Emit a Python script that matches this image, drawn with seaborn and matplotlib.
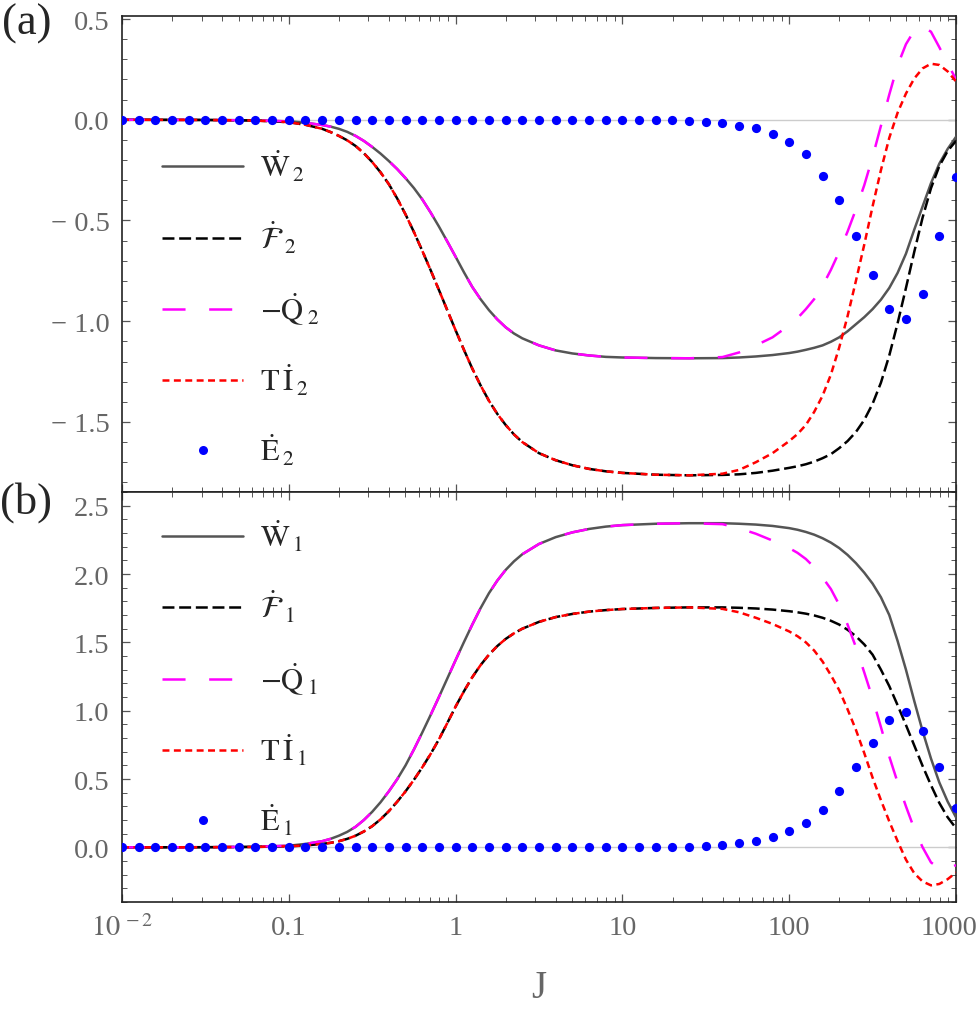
import numpy as np
import seaborn as sns
import matplotlib
matplotlib.use("Agg")
import matplotlib.pyplot as plt
from matplotlib.lines import Line2D
from matplotlib.transforms import ScaledTranslation
from matplotlib.ticker import MultipleLocator, LogLocator, FixedLocator, FuncFormatter, NullFormatter

# sampling grid of the curves, log10(J)
logJ = [-2.0, -1.5, -1.2, -1.0, -0.9,
        -0.8, -0.75, -0.7, -0.65, -0.6,
        -0.55, -0.5, -0.45, -0.4, -0.35,
        -0.3, -0.25, -0.2, -0.15, -0.1,
        -0.05, 0.0, 0.05, 0.1, 0.15,
        0.2, 0.25, 0.3, 0.35, 0.4,
        0.5, 0.6, 0.7, 0.8, 0.9,
        1.0, 1.2, 1.4, 1.6, 1.7,
        1.8, 1.9, 2.0, 2.05, 2.1,
        2.15, 2.2, 2.25, 2.3, 2.35,
        2.4, 2.45, 2.5, 2.55, 2.6,
        2.65, 2.7, 2.75, 2.8, 2.85,
        2.9, 2.95, 3.0]

# panel (a)
W2 = [0.0, -0.001, -0.003, -0.008, -0.015,
      -0.026, -0.034, -0.045, -0.060, -0.08,
      -0.105, -0.135, -0.168, -0.205, -0.245,
      -0.29, -0.339, -0.395, -0.46, -0.53,
      -0.604, -0.68, -0.757, -0.83, -0.891,
      -0.945, -0.991, -1.03, -1.061, -1.085,
      -1.12, -1.145, -1.16, -1.17, -1.177,
      -1.18, -1.183, -1.184, -1.183, -1.18,
      -1.175, -1.168, -1.158, -1.151, -1.142,
      -1.132, -1.12, -1.102, -1.08, -1.05,
      -1.015, -0.98, -0.94, -0.893, -0.835,
      -0.76, -0.665, -0.545, -0.43, -0.315,
      -0.218, -0.145, -0.085]
F2 = [0.0, -0.001, -0.004, -0.012, -0.025,
      -0.045, -0.061, -0.08, -0.102, -0.13,
      -0.166, -0.21, -0.261, -0.32, -0.391,
      -0.47, -0.557, -0.65, -0.746, -0.845,
      -0.945, -1.045, -1.142, -1.235, -1.319,
      -1.395, -1.46, -1.515, -1.562, -1.60,
      -1.655, -1.69, -1.715, -1.733, -1.745,
      -1.753, -1.762, -1.765, -1.763, -1.76,
      -1.753, -1.742, -1.728, -1.72, -1.71,
      -1.697, -1.68, -1.66, -1.63, -1.595,
      -1.55, -1.49, -1.41, -1.305, -1.17,
      -1.01, -0.835, -0.655, -0.485, -0.34,
      -0.23, -0.155, -0.105]
Q2 = [0.0, -0.001, -0.003, -0.008, -0.015,
      -0.026, -0.034, -0.045, -0.060, -0.08,
      -0.105, -0.135, -0.168, -0.205, -0.245,
      -0.29, -0.339, -0.395, -0.46, -0.53,
      -0.604, -0.68, -0.757, -0.83, -0.891,
      -0.945, -0.991, -1.03, -1.061, -1.085,
      -1.12, -1.145, -1.16, -1.17, -1.177,
      -1.18, -1.183, -1.184, -1.178, -1.155,
      -1.12, -1.08, -1.02, -0.985, -0.94,
      -0.89, -0.825, -0.745, -0.655, -0.555,
      -0.445, -0.325, -0.185, -0.03, 0.125,
      0.27, 0.375, 0.443, 0.462, 0.437,
      0.36, 0.28, 0.2]
TI2 = [0.0, -0.001, -0.004, -0.012, -0.025,
       -0.045, -0.061, -0.08, -0.102, -0.13,
       -0.166, -0.21, -0.261, -0.32, -0.391,
       -0.47, -0.557, -0.65, -0.746, -0.845,
       -0.945, -1.045, -1.142, -1.235, -1.319,
       -1.395, -1.46, -1.515, -1.562, -1.60,
       -1.655, -1.69, -1.715, -1.733, -1.745,
       -1.753, -1.762, -1.765, -1.757, -1.738,
       -1.70, -1.655, -1.595, -1.56, -1.515,
       -1.45, -1.37, -1.265, -1.13, -0.975,
       -0.80, -0.62, -0.43, -0.25, -0.09,
       0.035, 0.13, 0.205, 0.255, 0.278,
       0.272, 0.24, 0.19]

# panel (b)
W1 = [0.0, 0.001, 0.004, 0.012, 0.025,
      0.045, 0.062, 0.085, 0.113, 0.15,
      0.20, 0.26, 0.33, 0.41, 0.499,
      0.60, 0.716, 0.84, 0.968, 1.10,
      1.235, 1.37, 1.502, 1.63, 1.751,
      1.86, 1.952, 2.03, 2.093, 2.145,
      2.22, 2.27, 2.305, 2.33, 2.347,
      2.358, 2.368, 2.372, 2.372, 2.368,
      2.362, 2.352, 2.336, 2.324, 2.308,
      2.288, 2.262, 2.23, 2.19, 2.14,
      2.08, 2.01, 1.93, 1.83, 1.70,
      1.51, 1.30, 1.07, 0.85, 0.65,
      0.475, 0.335, 0.22]
F1 = [0.0, 0.001, 0.003, 0.008, 0.014,
      0.025, 0.033, 0.045, 0.062, 0.085,
      0.116, 0.155, 0.205, 0.265, 0.334,
      0.41, 0.494, 0.585, 0.683, 0.79,
      0.909, 1.03, 1.142, 1.245, 1.334,
      1.41, 1.473, 1.525, 1.566, 1.60,
      1.65, 1.685, 1.708, 1.725, 1.736,
      1.744, 1.752, 1.756, 1.756, 1.753,
      1.748, 1.74, 1.728, 1.72, 1.71,
      1.697, 1.68, 1.658, 1.63, 1.592,
      1.545, 1.485, 1.41, 1.30, 1.18,
      1.04, 0.895, 0.745, 0.595, 0.455,
      0.325, 0.22, 0.14]
Q1 = [0.0, 0.001, 0.004, 0.012, 0.025,
      0.045, 0.062, 0.085, 0.113, 0.15,
      0.20, 0.26, 0.33, 0.41, 0.499,
      0.60, 0.716, 0.84, 0.968, 1.10,
      1.235, 1.37, 1.502, 1.63, 1.751,
      1.86, 1.952, 2.03, 2.093, 2.145,
      2.22, 2.27, 2.305, 2.33, 2.347,
      2.358, 2.368, 2.372, 2.365, 2.335,
      2.295, 2.245, 2.19, 2.155, 2.11,
      2.05, 1.975, 1.89, 1.775, 1.63,
      1.465, 1.28, 1.09, 0.88, 0.665,
      0.475, 0.30, 0.135, 0.0, -0.11,
      -0.155, -0.16, -0.13]
TI1 = [0.0, 0.001, 0.003, 0.008, 0.014,
       0.025, 0.033, 0.045, 0.062, 0.085,
       0.116, 0.155, 0.205, 0.265, 0.334,
       0.41, 0.494, 0.585, 0.683, 0.79,
       0.909, 1.03, 1.142, 1.245, 1.334,
       1.41, 1.473, 1.525, 1.566, 1.60,
       1.65, 1.685, 1.708, 1.725, 1.736,
       1.744, 1.752, 1.756, 1.745, 1.72,
       1.68, 1.635, 1.58, 1.545, 1.50,
       1.44, 1.36, 1.26, 1.15, 1.01,
       0.86, 0.69, 0.51, 0.345, 0.19,
       0.045, -0.09, -0.19, -0.25, -0.278,
       -0.268, -0.233, -0.185]

# dotted series, one point every 0.1 decade from 10^-2 to 10^3
E2 = [0.0, 0.0, 0.0, 0.0, 0.0, 0.0, 0.0, 0.0, 0.0, 0.0,
      0.0, 0.0, 0.0, 0.0, 0.0, 0.0, 0.0, 0.0, 0.0, 0.0,
      0.0, 0.0, 0.0, 0.0, 0.0, 0.0, 0.0, 0.0, 0.0, 0.0,
      0.0, -0.001, -0.002, -0.003, -0.005, -0.009, -0.014, -0.03, -0.04, -0.07,
      -0.11, -0.17, -0.28, -0.40, -0.576, -0.77, -0.94, -0.99, -0.865, -0.576,
      -0.285]
E1 = [0.0, 0.0, 0.0, 0.0, 0.0, 0.0, 0.0, 0.0, 0.0, 0.0,
      0.0, 0.0, 0.0, 0.0, 0.0, 0.0, 0.0, 0.0, 0.0, 0.0,
      0.0, 0.0, 0.0, 0.0, 0.0, 0.0, 0.0, 0.0, 0.0, 0.0,
      0.0, 0.001, 0.002, 0.004, 0.006, 0.012, 0.017, 0.031, 0.046, 0.075,
      0.12, 0.18, 0.27, 0.41, 0.585, 0.76, 0.93, 0.99, 0.855, 0.585,
      0.285]

labels_a = [r"$\dot{\mathrm{W}}\,{}_{2}$", r"$\dot{\mathcal{F}}\,{}_{2}$",
            r"$-\dot{\mathrm{Q}}\,{}_{2}$", r"$\mathrm{T}\,\dot{\mathrm{I}}\,{}_{2}$",
            r"$\dot{\mathrm{E}}\,{}_{2}$"]
labels_b = [r"$\dot{\mathrm{W}}\,{}_{1}$", r"$\dot{\mathcal{F}}\,{}_{1}$",
            r"$-\dot{\mathrm{Q}}\,{}_{1}$", r"$\mathrm{T}\,\dot{\mathrm{I}}\,{}_{1}$",
            r"$\dot{\mathrm{E}}\,{}_{1}$"]
xticks = [0.01, 0.1, 1, 10, 100, 1000]
xtick_labels = [r"$10^{\,-2}$", "0.1", "1", "10", "100", "1000"]

sns.set_style("ticks")
plt.rcParams["font.family"] = ["Liberation Serif", "DejaVu Serif"]
plt.rcParams["mathtext.fontset"] = "stix"
plt.rcParams["lines.scale_dashes"] = False

GRAY = "#555555"
TXT = "#666666"
LW = 1.8
BLACK_DASH = (8.6, 3.4)
MAG_DASH = (16.6, 17.0)
RED_DASH = (5.0, 3.2)

J = 10 ** np.array(logJ)
Jdots = 10 ** np.linspace(-2, 3, 51)

fig = plt.figure(figsize=(9.8, 10.12), dpi=100)
ax_a = fig.add_axes([0.1245, 0.5128, 0.8510, 0.4704])
ax_b = fig.add_axes([0.1245, 0.1077, 0.8510, 0.4051])


def draw(ax, W, F, Q, TI, E, labels, ylim, anchor):
    ax.axhline(0, color="#cccccc", lw=1.0, zorder=1)
    sns.lineplot(x=J, y=W, ax=ax, color=GRAY, lw=LW, zorder=3)
    sns.lineplot(x=J, y=F, ax=ax, color="black", lw=LW, linestyle=(0, BLACK_DASH), zorder=4)
    sns.lineplot(x=J, y=Q, ax=ax, color="magenta", lw=LW, linestyle=(0, MAG_DASH), zorder=5)
    sns.lineplot(x=J, y=TI, ax=ax, color="red", lw=LW, linestyle=(0, RED_DASH), zorder=6)
    sns.scatterplot(x=Jdots, y=E, ax=ax, color="blue", s=44, linewidth=0, zorder=7)

    ax.set_xscale("log")
    ax.set_xlim(0.01, 1000)
    ax.set_ylim(*ylim)
    ax.yaxis.set_major_locator(MultipleLocator(0.5))
    ax.yaxis.set_minor_locator(MultipleLocator(0.1))
    ax.yaxis.set_major_formatter(FuncFormatter(
        lambda v, p: ("\u2212 %.1f" % abs(v)) if v < -1e-9 else "%.1f" % abs(v)))
    ax.xaxis.set_major_locator(FixedLocator(xticks))
    ax.xaxis.set_minor_locator(LogLocator(base=10, subs=range(2, 10), numticks=20))
    ax.xaxis.set_minor_formatter(NullFormatter())
    ax.set_xticklabels(xtick_labels)
    ax.tick_params(which="both", direction="in", top=True, right=True, color="#555555",
                   labelsize=20.5, labelcolor=TXT, pad=9)
    ax.tick_params(which="major", length=6, width=0.9)
    ax.tick_params(which="minor", length=3.5, width=0.7)
    for s in ax.spines.values():
        s.set_color("#222222")
        s.set_linewidth(1.2)
    ax.set_xlabel("")
    ax.set_ylabel("")

    handles = [Line2D([], [], color=GRAY, lw=LW),
               Line2D([], [], color="black", lw=LW, ls=(0, BLACK_DASH)),
               Line2D([], [], color="magenta", lw=LW, ls=(0, MAG_DASH)),
               Line2D([], [], color="red", lw=LW, ls=(0, RED_DASH)),
               Line2D([], [], ls="none", marker="o", ms=6.5, color="blue", mec="none")]
    ax.legend(handles, labels, loc="upper left", bbox_to_anchor=anchor, frameon=False,
              fontsize=22, handlelength=2.65, handletextpad=0.55, labelspacing=1.16,
              borderpad=0, borderaxespad=0, numpoints=1)


draw(ax_a, W2, F2, Q2, TI2, E2, labels_a, (-1.848, 0.515), (0.048, 0.721))
draw(ax_b, W1, F1, Q1, TI1, E1, labels_b, (-0.40, 2.60), (0.048, 0.935))
ax_a.tick_params(labelbottom=False)
ax_b.set_xlabel("J", fontsize=28, color=TXT, labelpad=20)

# keep the "1000" label inside the figure, as in the original
last = ax_b.xaxis.get_major_ticks()[-1].label1
last.set_transform(last.get_transform() + ScaledTranslation(-5 / 72, 0, fig.dpi_scale_trans))

fig.text(0.002, 0.976, "(a)", fontsize=32, ha="left", va="center")
fig.text(0.0, 0.503, "(b)", fontsize=32, ha="left", va="center")

fig.savefig("out.png", dpi=100)
